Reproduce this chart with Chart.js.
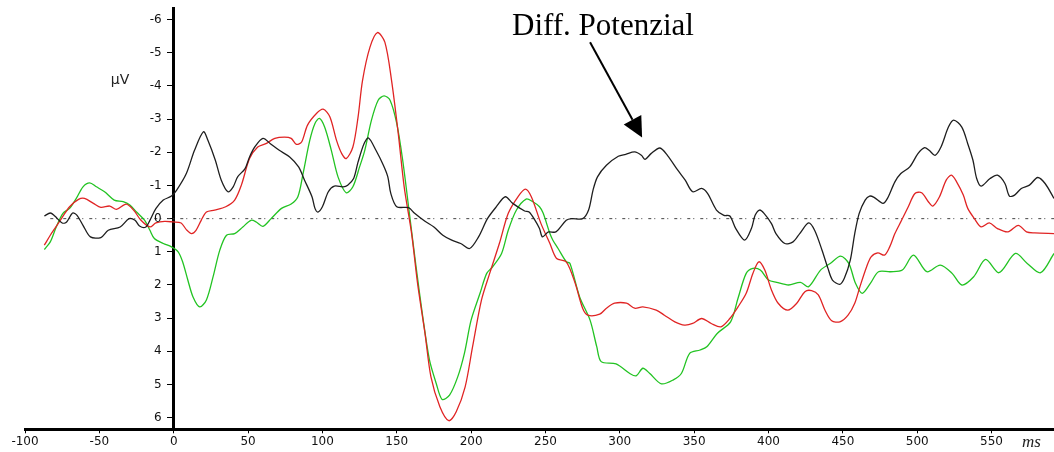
<!DOCTYPE html>
<html>
<head>
<meta charset="utf-8">
<script src="https://cdn.jsdelivr.net/npm/chart.js@4.4.1/dist/chart.umd.min.js"></script>
<style>
  html, body { margin: 0; padding: 0; background: #fff; }
  #wrap { width: 1054px; height: 452px; position: relative; }
</style>
</head>
<body>
<div id="wrap"><canvas id="erp"></canvas></div>
<script>
// time (ms) / amplitude (µV) pairs; negative is up
const xTicks = [-100, -50, 0, 50, 100, 150, 200, 250, 300, 350, 400, 450, 500, 550];
const yTicks = [-6, -5, -4, -3, -2, -1, 0, 1, 2, 3, 4, 5, 6];

const diffWave = [
  [-87,-0.08],[-83,-0.17],[-80,-0.08],[-75,0.13],[-72,0.10],[-68,-0.17],[-65,-0.10],[-61,0.2],[-56,0.55],[-49,0.57],
  [-44,0.35],[-36,0.25],[-30,0.0],[-26,0.05],[-23,0.22],[-19,0.26],[-16,0.05],[-12,-0.3],[-7,-0.56],[-1.5,-0.68],
  [2,-0.86],[8.5,-1.36],[14,-2.06],[20,-2.62],[23,-2.36],[28,-1.76],[32,-1.16],[36.5,-0.81],[40,-0.96],[43,-1.26],
  [48,-1.51],[51,-1.86],[54.5,-2.16],[60,-2.42],[65,-2.26],[71,-2.06],[78,-1.86],[84,-1.56],[88,-1.16],[93,-0.66],
  [95,-0.31],[97,-0.2],[100,-0.36],[104,-0.81],[108,-0.98],[114,-0.96],[117,-1.01],[121,-1.21],[124,-1.71],[128,-2.26],
  [131,-2.43],[136,-2.06],[141,-1.61],[144,-1.26],[146,-0.76],[150,-0.36],[158,-0.33],[162,-0.16],[169,0.08],[175,0.25],
  [181,0.5],[187,0.65],[193,0.75],[199,0.9],[205,0.55],[211,0.0],[217,-0.36],[223,-0.66],[228,-0.46],[236,-0.23],
  [239,-0.2],[243,0.05],[246,0.3],[248,0.55],[252,0.4],[257,0.4],[264,0.05],[267.5,0.0],[275,0.0],[279,-0.26],
  [282,-0.86],[285,-1.26],[291,-1.61],[299,-1.88],[304,-1.94],[310,-2.01],[314.5,-1.91],[317,-1.79],[321,-1.96],[327,-2.13],
  [332,-1.91],[339,-1.46],[344,-1.16],[349,-0.81],[355,-0.91],[359,-0.76],[365,-0.26],[370,-0.1],[374,-0.08],[378,0.3],
  [384,0.65],[388.5,0.3],[391,-0.1],[394,-0.26],[397,-0.16],[402,0.15],[405,0.45],[411,0.75],[416.5,0.7],[421,0.45],
  [427,0.13],[431,0.35],[436,0.95],[440,1.5],[443,1.85],[448,1.98],[451,1.8],[455,1.25],[458,0.45],[461,-0.16],
  [465,-0.56],[468,-0.68],[471,-0.64],[477,-0.46],[480,-0.61],[485,-1.11],[489,-1.36],[495,-1.56],[500.5,-1.96],[505,-2.14],
  [508,-2.06],[512,-1.91],[516,-2.16],[521,-2.76],[524.5,-2.97],[530,-2.76],[534,-2.26],[537.5,-1.76],[540,-1.21],[543,-0.98],
  [549,-1.21],[554,-1.31],[559,-1.06],[562,-0.68],[565.5,-0.71],[570,-0.91],[575.5,-1.01],[581,-1.24],[586,-1.06],[592,-0.61]
];

const redWave = [
  [-87,0.8],[-83,0.5],[-80,0.3],[-75.5,0],[-70,-0.36],[-64,-0.58],[-60,-0.61],[-54,-0.46],[-49,-0.34],[-43,-0.38],
  [-38.5,-0.28],[-32,-0.44],[-27,-0.26],[-22,0.05],[-16,0.25],[-12,0.13],[-6,0.08],[-0.5,0.1],[5,0.13],[8.5,0.33],
  [12,0.45],[15,0.35],[18.5,0.05],[22,-0.2],[27.5,-0.26],[35,-0.36],[41,-0.56],[45.5,-1.01],[51,-1.81],[56.5,-2.16],
  [62,-2.26],[68,-2.42],[74.5,-2.46],[79,-2.42],[82.5,-2.24],[86,-2.31],[90,-2.82],[96,-3.17],[100.5,-3.3],[105,-3.07],
  [109.5,-2.36],[113,-1.96],[116,-1.81],[120.5,-2.16],[124,-3.07],[127,-4.17],[132,-5.17],[137,-5.61],[142,-5.32],[146.5,-4.17],
  [151,-2.57],[155,-0.96],[160,0.45],[164,1.95],[169,3.46],[173,4.77],[179,5.67],[185,6.09],[190,5.82],[196,5.07],
  [201,3.86],[207,2.45],[212.5,1.65],[219,0.75],[225,-0.16],[231.5,-0.66],[236.5,-0.89],[240.5,-0.66],[247,0.15],[253,0.75],
  [257.5,1.2],[264,1.3],[270,1.95],[275,2.7],[278.5,2.91],[286.5,2.88],[291,2.7],[296.5,2.55],[304.5,2.55],[310,2.7],
  [315.5,2.66],[324.5,2.76],[330,2.91],[337,3.11],[343.5,3.21],[349,3.16],[355,3.01],[361.5,3.16],[368,3.26],[374,3.01],
  [379.5,2.66],[385,2.25],[389.5,1.65],[393.5,1.3],[397.5,1.55],[402,2.15],[406.5,2.55],[413,2.76],[419,2.55],[424.5,2.2],
  [429,2.17],[433.5,2.3],[438,2.76],[442.5,3.08],[448,3.11],[453.5,2.91],[458,2.55],[461.5,2.05],[466,1.45],[469,1.15],
  [473.5,1.03],[478,1.1],[481.5,0.85],[485,0.45],[489.5,0.05],[494,-0.36],[498.5,-0.76],[503,-0.78],[507.5,-0.51],[510.5,-0.38],
  [515,-0.66],[519.5,-1.16],[523,-1.31],[526.5,-1.11],[531,-0.71],[534,-0.31],[538.5,0],[543,0.25],[548.5,0.13],[554,0.3],
  [561,0.4],[568,0.2],[573.5,0.4],[579,0.43],[592,0.45]
];

const greenWave = [
  [-87,0.93],[-83,0.7],[-79,0.25],[-74.5,-0.16],[-70,-0.31],[-65.5,-0.61],[-61,-0.96],[-56.5,-1.08],[-52,-0.96],[-46.5,-0.81],
  [-40,-0.56],[-34,-0.51],[-29.5,-0.41],[-25,-0.2],[-19.5,0.05],[-16,0.35],[-13,0.6],[-7,0.75],[-1.5,0.85],[3,1.0],
  [6,1.3],[9.5,1.85],[13,2.36],[17.5,2.66],[22,2.45],[26.5,1.75],[31,0.95],[35.5,0.5],[41,0.45],[46.5,0.25],
  [52,0.05],[55.5,0.1],[60,0.23],[65.5,0],[72.5,-0.31],[79,-0.44],[83.5,-0.66],[87,-1.36],[91.5,-2.36],[95,-2.87],
  [98,-3.02],[101.5,-2.76],[106,-2.06],[110.5,-1.26],[116,-0.78],[120.5,-0.96],[125,-1.56],[128.5,-2.06],[133,-2.97],[137.5,-3.57],
  [141.5,-3.7],[145.5,-3.57],[150,-2.87],[154,-1.76],[158.5,-0.16],[163,1.45],[167.5,2.96],[172,4.26],[176.5,4.96],[180.5,5.45],
  [185.5,5.32],[191,4.77],[195.5,4.06],[200,3.06],[206,2.25],[210.5,1.65],[214.5,1.45],[220.5,1.05],[225,0.35],[230.5,-0.26],
  [237,-0.59],[241.5,-0.51],[246,-0.36],[248.5,-0.16],[253,0.45],[255,0.65],[258.5,0.9],[264,1.3],[266.5,1.35],[273,2.36],
  [280,3.06],[284.5,3.86],[287.5,4.31],[297.5,4.38],[306.5,4.66],[311,4.74],[315.5,4.51],[320,4.66],[328,4.98],[336,4.86],
  [341.5,4.66],[347,4.06],[354,3.96],[358.5,3.86],[365.5,3.46],[374.5,3.11],[379.5,2.4],[385,1.65],[389.5,1.5],[394.5,1.55],
  [400,1.85],[405.5,1.92],[413.5,2.0],[421.5,1.92],[427,2.05],[435,1.55],[441.5,1.35],[448.5,1.13],[454,1.35],[458.5,1.95],
  [463,2.25],[468.5,1.95],[474,1.6],[482,1.6],[490,1.55],[497.5,1.1],[506.5,1.6],[515.5,1.4],[523.5,1.65],[530,2.0],
  [538,1.75],[546,1.23],[555,1.63],[566,1.05],[574,1.35],[583,1.63],[592,1.05]
];

const baseline = [[-83, 0], [592, 0]];

// arrow of the "Diff. Potenzial" note, in ms / µV
const arrowFrom = [280, -5.32];
const arrowTo = [315, -2.45];

const toXY = pts => pts.map(p => ({ x: p[0], y: p[1] }));
const FONT = { family: 'DejaVu Sans', size: 12 };

function trace(data, color) {
  return {
    data: toXY(data),
    borderColor: color,
    borderWidth: 1.3,
    pointRadius: 0,
    tension: 0.3,
    fill: false,
  };
}

const notes = {
  id: 'notes',
  afterDraw(chart) {
    const { ctx, scales: { x, y } } = chart;
    ctx.save();
    ctx.fillStyle = '#000';
    ctx.strokeStyle = '#000';

    // y tick labels sit left of the axis that crosses at 0 ms
    const axisX = x.getPixelForValue(0);
    ctx.font = '12px "DejaVu Sans"';
    ctx.fillStyle = '#111';
    ctx.textAlign = 'right';
    ctx.textBaseline = 'middle';
    y.ticks.forEach(t => {
      ctx.fillText(String(t.value), axisX - 12, y.getPixelForValue(t.value));
    });

    ctx.fillStyle = '#000';
    ctx.font = '31px "Liberation Serif"';
    ctx.textAlign = 'left';
    ctx.textBaseline = 'alphabetic';
    ctx.fillText('Diff. Potenzial', 512, 35);

    const x0 = x.getPixelForValue(arrowFrom[0]), y0 = y.getPixelForValue(arrowFrom[1]);
    const x1 = x.getPixelForValue(arrowTo[0]), y1 = y.getPixelForValue(arrowTo[1]);
    const len = Math.hypot(x1 - x0, y1 - y0);
    const ux = (x1 - x0) / len, uy = (y1 - y0) / len;
    const bx = x1 - ux * 20, by = y1 - uy * 20;
    ctx.lineWidth = 2;
    ctx.beginPath();
    ctx.moveTo(x0, y0);
    ctx.lineTo(bx, by);
    ctx.stroke();
    ctx.beginPath();
    ctx.moveTo(x1, y1);
    ctx.lineTo(bx - uy * 10, by + ux * 10);
    ctx.lineTo(bx + uy * 10, by - ux * 10);
    ctx.closePath();
    ctx.fill();

    ctx.font = '14px "DejaVu Sans"';
    ctx.textAlign = 'center';
    ctx.textBaseline = 'middle';
    ctx.fillStyle = '#222';
    ctx.fillText('\u00b5V', 120, 80);

    ctx.font = 'italic 17px "Liberation Serif"';
    ctx.textAlign = 'left';
    ctx.textBaseline = 'alphabetic';
    ctx.fillText('ms', 1022, 447);
    ctx.restore();
  }
};

new Chart(document.getElementById('erp'), {
  type: 'line',
  data: {
    datasets: [
      trace(diffWave, '#1e1e1e'),
      trace(redWave, '#e02424'),
      trace(greenWave, '#22c322'),
      {
        data: toXY(baseline),
        borderColor: '#444',
        borderWidth: 1,
        borderDash: [3, 3, 1, 6],
        pointRadius: 0,
        fill: false,
      },
    ],
  },
  options: {
    responsive: true,
    maintainAspectRatio: false,
    animation: false,
    devicePixelRatio: 1,
    layout: { padding: { left: 25, top: 8, right: 0, bottom: 0 } },
    plugins: { legend: { display: false }, tooltip: { enabled: false } },
    scales: {
      x: {
        type: 'linear',
        min: -100,
        max: 592,
        afterBuildTicks: s => { s.ticks = xTicks.map(v => ({ value: v })); },
        afterFit: s => { s.height = 22.7; },
        grid: { drawOnChartArea: false, drawTicks: true, tickLength: 4, color: '#000', lineWidth: 1 },
        border: { display: true, color: '#000', width: 3 },
        ticks: { color: '#111', font: FONT, padding: 1, maxRotation: 0 },
      },
      y: {
        type: 'linear',
        position: { x: 0 },
        reverse: true,
        min: -6.35,
        max: 6.35,
        afterBuildTicks: s => { s.ticks = yTicks.map(v => ({ value: v })); },
        grid: { drawOnChartArea: false, drawTicks: true, tickLength: 5, color: '#000', lineWidth: 1 },
        border: { display: true, color: '#000', width: 3 },
        // labels are painted by the notes plugin, left of the crossing axis
        ticks: { display: false },
      },
    },
  },
  plugins: [notes],
});
</script>
</body>
</html>
